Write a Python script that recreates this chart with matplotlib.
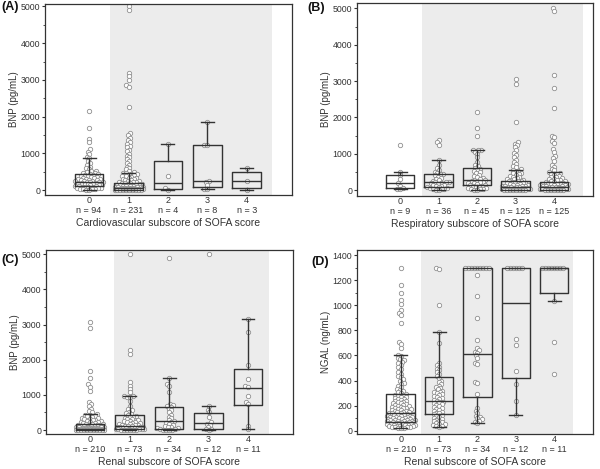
import matplotlib

matplotlib.use("Agg")
import matplotlib.pyplot as plt
import numpy as np
from matplotlib.ticker import MultipleLocator

plt.rcParams["font.family"] = ["Liberation Sans", "DejaVu Sans"]

W, H, DPI = 600, 469, 100
INK = "#333333"
SHADE = "#ececec"
DOT_EDGE = "#8f8f8f"
DOT_S = 10.0     # marker area, pt^2
DOT_GAP = 3.0    # swarm collision distance, px
DOT_MAXW = 14.0  # swarm half-width limit, px

cats = ["0", "1", "2", "3", "4"]

# ---- (A) BNP by cardiovascular subscore
a_n = [94, 231, 4, 8, 3]
a_pts0 = [2140, 1700, 1390, 1300, 1110, 1045, 970, 910, 860, 790, 730, 690, 640, 590, 560, 530,
          505, 485, 470, 455, 440, 428, 415, 400, 390, 375, 360, 350, 335, 320, 310, 300, 290,
          280, 270, 262, 255, 245, 238, 230, 222, 215, 205, 195, 188, 180, 170, 160, 152, 145,
          135, 125, 118, 110, 102, 95, 88, 80, 72, 65, 55, 48, 40, 32, 25, 18, 10, 5]
a_pts1 = [5000, 4910, 3200, 3110, 3000, 2860, 2800, 2255, 1545, 1490, 1430, 1370, 1310, 1260,
          1210, 1160, 1100, 1050, 990, 940, 890, 840, 790, 740, 690, 640, 600, 560, 520, 490,
          470, 455, 445, 430, 415, 400, 385, 370, 355, 340, 325, 310, 295, 280, 268, 255, 242,
          230, 218, 205, 196, 187, 178, 170, 162, 154, 146, 138, 130, 122, 115, 108, 101, 95,
          89, 83, 78, 73, 68, 63, 58, 54, 50, 46, 42, 38, 35, 32, 29, 26, 23, 20, 18, 16, 14,
          12, 10, 8, 6, 5, 4, 3, 2, 1, 0]
a_pts2 = [1245, 390, 45, 5]
a_pts3 = [1845, 1230, 1220, 250, 225, 150, 20, 15]
a_pts4 = [605, 240, 5]
a_med = [227, 60, 200, 235, 240]
a_q1 = [109, 12, 18, 90, 64]
a_q3 = [427, 200, 800, 1227, 500]
a_lo = [5, 0, 5, 15, 5]
a_hi = [860, 450, 1245, 1845, 605]

# ---- (B) BNP by respiratory subscore
b_n = [9, 36, 45, 125, 125]
b_pts0 = [1250, 490, 400, 300, 180, 120, 50, 30, 20]
b_pts1 = [1370, 1310, 1250, 840, 700, 600, 540, 500, 470, 450, 430, 400, 370, 340, 310, 280,
          250, 230, 220, 210, 200, 185, 170, 150, 130, 115, 100, 90, 75, 60, 50, 40, 30, 20,
          10, 5]
b_pts2 = [2150, 1700, 1490, 1110, 1100, 1090, 1060, 1000, 900, 760, 700, 650, 610, 580, 550,
          520, 490, 460, 420, 380, 350, 320, 300, 285, 270, 255, 240, 225, 210, 195, 180, 165,
          150, 135, 120, 110, 95, 80, 65, 50, 35, 25, 15, 8, 3]
b_pts3 = [3070, 2930, 1860, 1310, 1270, 1230, 1180, 1100, 1030, 960, 900, 840, 780, 720, 670,
          620, 580, 551, 530, 505, 480, 455, 430, 410, 390, 370, 350, 330, 310, 292, 275, 260,
          248, 236, 224, 212, 200, 190, 180, 170, 160, 150, 141, 132, 124, 116, 108, 100, 93,
          86, 80, 74, 68, 62, 57, 52, 47, 43, 39, 35, 31, 27, 24, 21, 18, 15, 12, 10, 8, 6, 4,
          2, 1, 0]
b_pts4 = [5000, 4920, 3170, 2800, 2250, 1500, 1450, 1350, 1300, 1130, 1050, 950, 880, 800, 700,
          640, 590, 540, 487, 470, 450, 430, 410, 390, 370, 350, 330, 312, 295, 280, 265, 250,
          237, 225, 213, 202, 192, 182, 172, 162, 152, 143, 134, 126, 118, 110, 103, 96, 90,
          84, 78, 72, 66, 61, 56, 51, 46, 42, 38, 34, 30, 26, 23, 20, 17, 14, 11, 9, 7, 5, 3, 1]
b_med = [180, 225, 285, 74, 85]
b_q1 = [46, 80, 125, 12, 12]
b_q3 = [400, 440, 597, 248, 225]
b_lo = [20, 5, 3, 0, 0]
b_hi = [490, 840, 1110, 551, 487]

# ---- (C) BNP by renal subscore
c_n = [210, 73, 34, 12, 11]
c_pts0 = [3070, 2910, 1680, 1490, 1300, 1230, 1110, 800, 740, 670, 600, 540, 500, 453, 430, 415,
          400, 385, 370, 355, 340, 325, 310, 295, 280, 266, 252, 240, 228, 216, 205, 194, 184,
          174, 165, 156, 148, 140, 132, 124, 117, 110, 103, 97, 91, 85, 80, 75, 70, 65, 60, 56,
          52, 48, 44, 40, 37, 34, 31, 28, 25, 22, 20, 18, 16, 14, 12, 10, 8, 6, 5, 4, 3, 2, 1, 0]
c_pts1 = [5000, 2270, 2170, 1370, 1255, 1160, 1070, 980, 960, 950, 940, 830, 690, 600, 560, 520,
          480, 450, 425, 400, 380, 360, 340, 320, 300, 280, 262, 245, 230, 215, 200, 188, 176,
          165, 154, 144, 134, 124, 115, 106, 98, 90, 82, 75, 68, 62, 56, 50, 45, 40, 35, 30,
          26, 22, 18, 14, 10, 7, 4, 2, 0]
c_pts2 = [4890, 1490, 1300, 1250, 1085, 740, 700, 680, 650, 600, 560, 500, 440, 380, 330, 290,
          264, 240, 210, 180, 150, 120, 100, 80, 60, 45, 30, 20, 15, 10, 5, 2]
c_pts3 = [5000, 690, 580, 500, 380, 220, 180, 150, 90, 40, 20, 10]
c_pts4 = [3170, 2800, 1850, 1450, 1250, 1210, 970, 800, 740, 120, 20]
c_med = [40, 123, 250, 198, 1207]
c_q1 = [10, 35, 40, 28, 726]
c_q3 = [170, 415, 665, 472, 1745]
c_lo = [0, 0, 2, 10, 20]
c_hi = [450, 955, 1480, 690, 3160]

# ---- (D) NGAL by renal subscore
d_n = [210, 73, 34, 12, 11]
d_pts0 = [1300, 1160, 1100, 1040, 1010, 960, 940, 920, 860, 710, 690, 660, 607, 595, 580, 570,
          560, 548, 540, 525, 510, 495, 470, 455, 440, 430, 410, 395, 380, 372, 360, 345, 335,
          322, 315, 305, 298, 292, 288, 281, 276, 270, 266, 261, 255, 250, 246, 240, 236, 231,
          226, 222, 218, 213, 208, 205, 201, 197, 193, 189, 185, 181, 178, 174, 170, 167, 163,
          160, 156, 153, 150, 147, 144, 141, 138, 135, 132, 129, 127, 124, 121, 119, 116, 113,
          111, 108, 106, 103, 101, 98, 96, 94, 91, 89, 87, 85, 83, 80, 78, 76, 74, 72, 70, 68,
          66, 64, 62, 60, 58, 56, 54, 52, 50, 48, 46, 44, 42, 40, 38, 36, 34, 32, 30, 28, 26,
          24, 22, 20]
d_pts1 = [1300, 1290, 1000, 784, 700, 540, 525, 510, 495, 480, 465, 450, 435, 420, 400, 385, 372,
          360, 350, 340, 330, 320, 312, 305, 298, 290, 282, 275, 268, 260, 252, 245, 238, 232,
          226, 220, 212, 205, 198, 190, 182, 175, 168, 160, 152, 145, 138, 130, 122, 115, 108,
          100, 92, 86, 80, 74, 68, 62, 56, 50, 45, 40, 36, 32]
d_pts2 = [1300, 1300, 1300, 1300, 1300, 1300, 1300, 1300, 1300, 1244, 1071, 900, 720, 660, 640,
          630, 620, 600, 580, 540, 530, 390, 380, 290, 180, 160, 140, 120, 110, 100, 90, 80, 70,
          59]
d_pts3 = [1300, 1300, 1300, 1300, 1300, 1300, 733, 682, 476, 376, 238, 125]
d_pts4 = [1300, 1300, 1300, 1300, 1300, 1300, 1300, 1300, 1030, 710, 450]
d_med = [140, 238, 614, 1015, 1300]
d_q1 = [71, 132, 268, 420, 1100]
d_q3 = [291, 430, 1294, 1300, 1300]
d_lo = [22, 32, 59, 125, 1030]
d_hi = [607, 784, 1300, 1300, 1300]


def swarm(ypx, d, maxw):
    """Beeswarm x-offsets (px) for values in pixel units; crowded rows overlap inside +-maxw."""
    xs = np.zeros(len(ypx))
    placed = []
    grid = np.linspace(-maxw, maxw, 29)
    for i in np.argsort(ypx, kind="stable"):
        y = ypx[i]
        near = [(px, py) for px, py in placed if abs(py - y) < d]
        cands = [0.0]
        for px, py in near:
            dx = np.sqrt(d * d - (py - y) ** 2)
            cands += [px + dx, px - dx]
        cands = sorted((c for c in cands if abs(c) <= maxw), key=lambda c: (abs(c), c))
        for c in cands:
            if all((c - px) ** 2 + (y - py) ** 2 >= d * d - 1e-6 for px, py in near):
                xs[i] = c
                break
        else:
            gap = [min((g - px) ** 2 + (y - py) ** 2 for px, py in near) for g in grid]
            xs[i] = grid[int(np.argmax(gap))]
        placed.append((xs[i], y))
    return xs


def draw(fig, box, xlim, ylim, shade, pts, n, med, q1, q3, lo, hi, ylabel, xlabel, major, minor):
    l, t, r, b = box
    ax = fig.add_axes([l / W, 1 - b / H, (r - l) / W, (b - t) / H])
    px_x = (r - l) / (xlim[1] - xlim[0])
    px_y = (b - t) / (ylim[1] - ylim[0])
    ax.axvspan(*shade, color=SHADE, lw=0, zorder=0)
    for k, vals in enumerate(pts):
        vals = np.asarray(vals, float)
        off = swarm(vals * px_y, DOT_GAP, DOT_MAXW) / px_x
        ax.scatter(k + off, vals, s=DOT_S, facecolors="white", edgecolors=DOT_EDGE,
                   linewidths=0.6, zorder=2)
    stats = [dict(med=m, q1=a, q3=c, whislo=w0, whishi=w1, fliers=[])
             for m, a, c, w0, w1 in zip(med, q1, q3, lo, hi)]
    width = 28.5 / px_x
    lp = dict(color=INK, lw=1.0, zorder=3)
    ax.bxp(stats, positions=range(5), widths=width, capwidths=width * 0.45, showfliers=False,
           manage_ticks=False, boxprops=lp, medianprops=lp, whiskerprops=lp, capprops=lp)
    ax.set_xlim(*xlim)
    ax.set_ylim(*ylim)
    ax.set_xticks(range(5))
    ax.set_xticklabels([f"{c}\nn = {k}" for c, k in zip(cats, n)], linespacing=1.25)
    ax.yaxis.set_major_locator(MultipleLocator(major))
    ax.yaxis.set_minor_locator(MultipleLocator(minor))
    ax.tick_params(axis="x", length=0, pad=0.5, labelsize=6.5, labelcolor=INK)
    ax.tick_params(axis="y", which="major", direction="out", length=2.2, width=0.8,
                   labelsize=6.3, labelcolor=INK, color=INK, pad=1.2)
    ax.tick_params(axis="y", which="minor", direction="out", length=1.4, width=0.6, color=INK)
    for s in ax.spines.values():
        s.set_color(INK)
        s.set_linewidth(0.9)
    ax.set_ylabel(ylabel, fontsize=7, color=INK, labelpad=1.5)
    ax.set_xlabel(xlabel, fontsize=7.5, color=INK, labelpad=2)
    return ax


fig = plt.figure(figsize=(W / DPI, H / DPI), dpi=DPI)

draw(fig, (45, 4, 292, 195), (-1.12, 5.15), (-136, 5068), (0.53, 4.63),
     [a_pts0, a_pts1, a_pts2, a_pts3, a_pts4], a_n, a_med, a_q1, a_q3, a_lo, a_hi,
     "BNP (pg/mL)", "Cardiovascular subscore of SOFA score", 1000, 500)
draw(fig, (357, 3, 593, 196), (-1.12, 5.01), (-165, 5150), (0.56, 4.75),
     [b_pts0, b_pts1, b_pts2, b_pts3, b_pts4], b_n, b_med, b_q1, b_q3, b_lo, b_hi,
     "BNP (pg/mL)", "Respiratory subscore of SOFA score", 1000, 500)
draw(fig, (46, 250, 293, 434), (-1.12, 5.14), (-113, 5122), (0.61, 4.54),
     [c_pts0, c_pts1, c_pts2, c_pts3, c_pts4], c_n, c_med, c_q1, c_q3, c_lo, c_hi,
     "BNP (pg/mL)", "Renal subscore of SOFA score", 1000, 500)
draw(fig, (357, 250, 593, 434), (-1.14, 5.01), (-26, 1440), (0.52, 4.5),
     [d_pts0, d_pts1, d_pts2, d_pts3, d_pts4], d_n, d_med, d_q1, d_q3, d_lo, d_hi,
     "NGAL (ng/mL)", "Renal subscore of SOFA score", 200, 100)

for label, x, y in [("(A)", 1, 7), ("(B)", 307, 8), ("(C)", 1, 260), ("(D)", 311, 262)]:
    fig.text(x / W, 1 - y / H, label, fontsize=9, fontweight="bold", color="#111111",
             ha="left", va="center")

fig.savefig("out.png", dpi=DPI)
